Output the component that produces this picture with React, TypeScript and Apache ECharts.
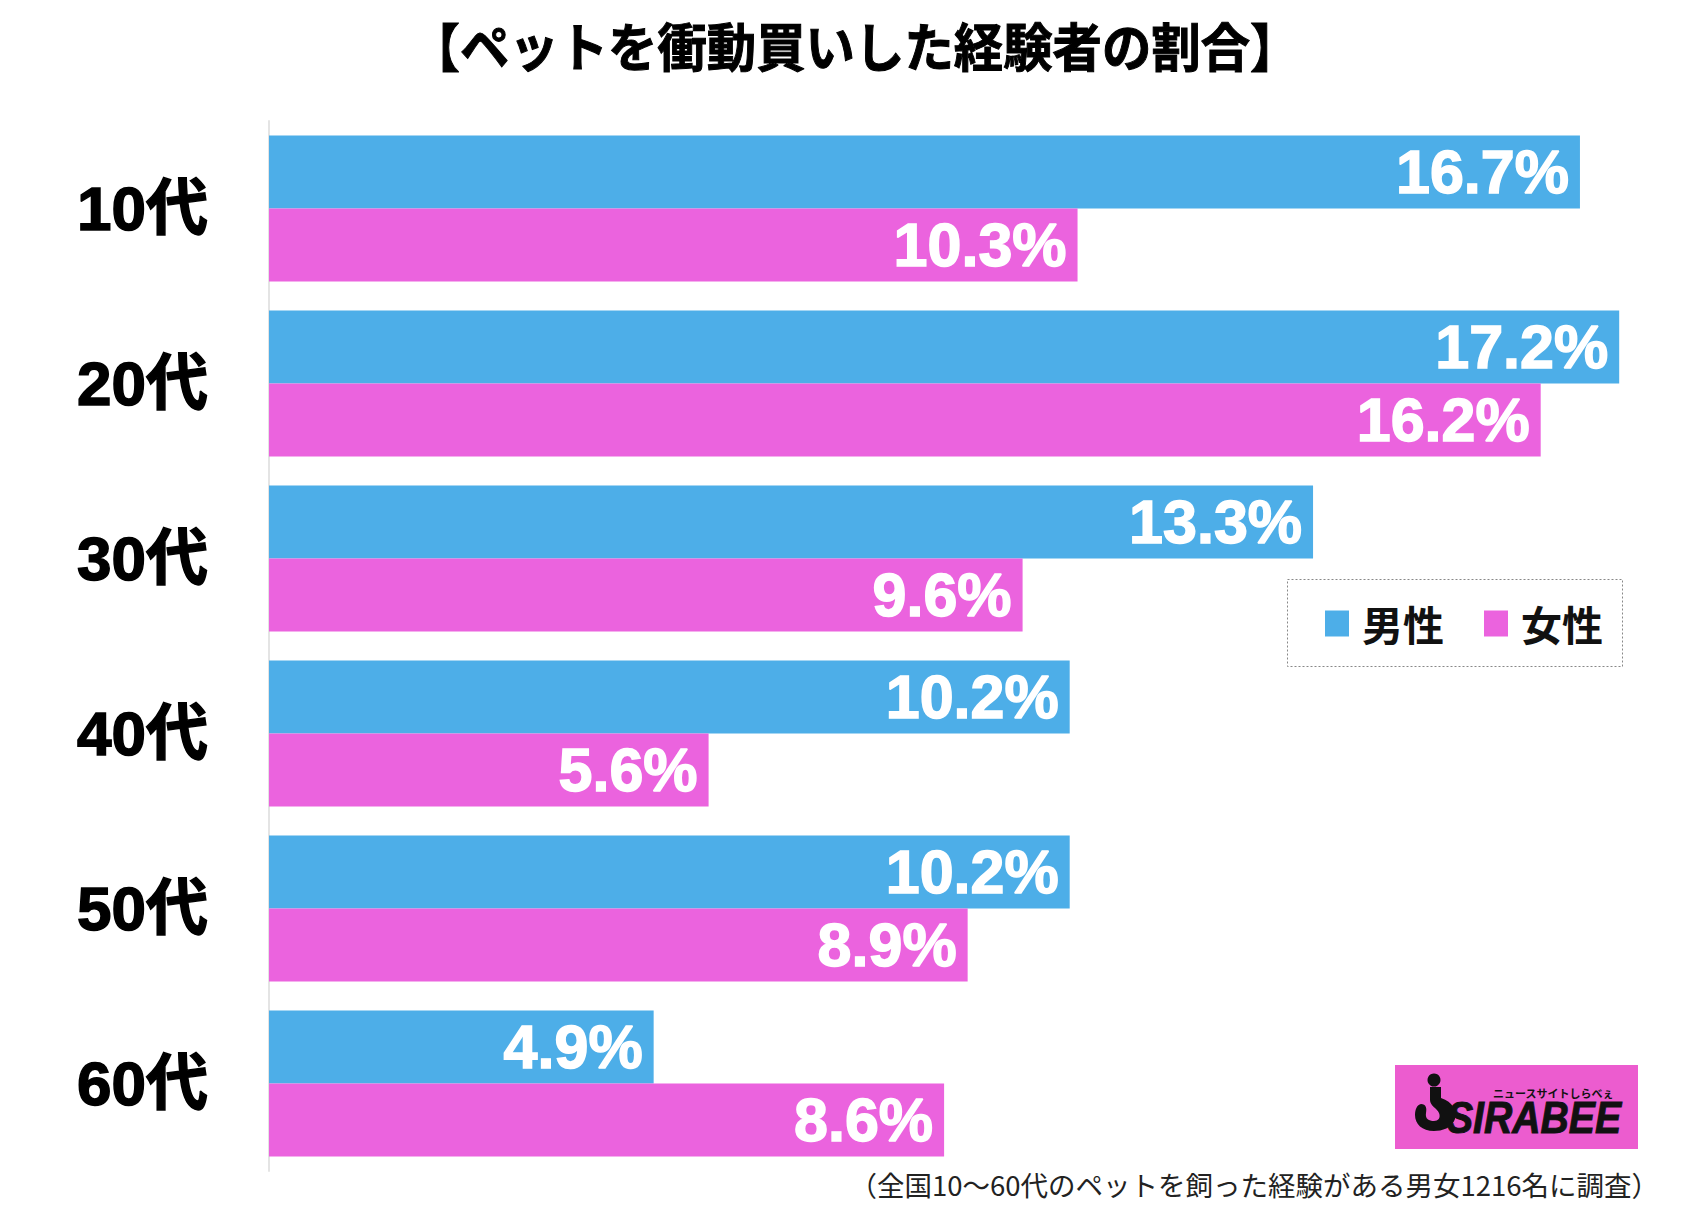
import React, { useEffect, useRef } from "react";
import * as echarts from "echarts";

const categories = ["10代", "20代", "30代", "40代", "50代", "60代"];
const maleValues = [16.7, 17.2, 13.3, 10.2, 10.2, 4.9];
const femaleValues = [10.3, 16.2, 9.6, 5.6, 8.9, 8.6];
const seriesNames = ["男性", "女性"];
const titleText = "【ペットを衝動買いした経験者の割合】";
const footnoteText = "（全国10〜60代のペットを飼った経験がある男女1216名に調査）";

const BLUE = "#4daee8";
const PINK = "#eb63de";
const LOGO_PINK = "#ec5ccf";

const hookPath =
  "M 35 24 L 46 24 L 46 35 C 58 39 62 48 60 56 C 57 65 47 68 39 68 C 27 68 20 61 20 52 C 20 46 22 42 26 41 C 31 41 32 45 31 50 C 30 56 34 58 39 58 C 43 58 46 55 44 50 C 42 45 35 43 35 37 Z";

const valueLabel = {
  show: true,
  position: "insideRight",
  distance: 11,
  formatter: "{c}%",
  color: "#fff",
  fontSize: 61,
  fontWeight: "bold",
  fontFamily: "'Liberation Sans'",
  textBorderColor: "#fff",
  textBorderWidth: 1.5,
};

export default function App() {
  const ref = useRef<HTMLDivElement>(null);
  useEffect(() => {
    if (!ref.current) return;
    echarts.graphic.registerShape("logo", echarts.graphic.extendPath(hookPath, {}));
    const chart = echarts.init(ref.current, undefined, { renderer: "svg" });
    chart.setOption({
      animation: false,
      backgroundColor: "#ffffff",
      grid: { left: 269, right: 20, top: 121, height: 1050 },
      legend: {
        data: seriesNames,
        left: 1325,
        top: 603,
        padding: 0,
        itemWidth: 24,
        itemHeight: 26,
        itemGap: 40,
        icon: "rect",
        selectedMode: false,
        textStyle: {
          fontSize: 41,
          fontWeight: "bold",
          fontFamily: "'Noto Sans CJK JP'",
          color: "#111",
          padding: [0, 0, 0, 8],
        },
      },
      xAxis: {
        type: "value",
        min: 0,
        max: 18,
        show: false,
        splitLine: { show: false },
      },
      yAxis: {
        type: "category",
        data: categories,
        inverse: true,
        axisLine: { show: true, lineStyle: { color: "#e4e4e4", width: 2 } },
        axisTick: { show: false },
        axisLabel: {
          margin: 61,
          fontSize: 62,
          fontWeight: "bold",
          color: "#000",
          fontFamily: "'Liberation Sans', 'Noto Sans CJK JP'",
          textBorderColor: "#000",
          textBorderWidth: 1.5,
        },
      },
      series: [
        {
          name: seriesNames[0],
          type: "bar",
          data: maleValues,
          barWidth: 73,
          barGap: "0%",
          itemStyle: { color: BLUE },
          label: valueLabel,
        },
        {
          name: seriesNames[1],
          type: "bar",
          data: femaleValues,
          barWidth: 73,
          barGap: "0%",
          itemStyle: { color: PINK },
          label: valueLabel,
        },
      ],
      graphic: [
        {
          type: "text",
          x: 855,
          y: 44,
          scaleX: 0.95,
          style: {
            text: titleText,
            fontSize: 52,
            fontWeight: "bold",
            fontFamily: "'Noto Sans CJK JP'",
            fill: "#000",
            stroke: "#000",
            lineWidth: 1,
            textAlign: "center",
            textVerticalAlign: "middle",
          },
        },
        {
          type: "rect",
          shape: { x: 1287.5, y: 579.5, width: 335, height: 87 },
          style: { fill: "none", stroke: "#888", lineWidth: 1, lineDash: [2, 2] },
          z: 1,
        },
        {
          type: "text",
          x: 1659,
          y: 1184,
          style: {
            text: footnoteText,
            fontSize: 27.5,
            fontFamily: "'Noto Sans CJK JP'",
            fill: "#222",
            textAlign: "right",
            textVerticalAlign: "middle",
          },
        },
        {
          type: "rect",
          shape: { x: 1395, y: 1065, width: 243, height: 84 },
          style: { fill: LOGO_PINK },
        },
        {
          type: "circle",
          shape: { cx: 1434, cy: 1080, r: 6.5 },
          style: { fill: "#111" },
        },
        {
          type: "logo",
          x: 1395,
          y: 1063,
          scaleX: 1,
          scaleY: 1,
          style: { fill: "#111" },
        },
        {
          type: "text",
          x: 1447,
          y: 1118,
          scaleX: 0.89,
          style: {
            text: "SIRABEE",
            fontSize: 44,
            fontWeight: "bold",
            fontStyle: "italic",
            fontFamily: "'Liberation Sans'",
            fill: "#111",
            stroke: "#111",
            lineWidth: 1,
            textVerticalAlign: "middle",
          },
        },
        {
          type: "text",
          x: 1493,
          y: 1093,
          style: {
            text: "ニュースサイトしらべぇ",
            fontSize: 11,
            fontWeight: "bold",
            fontFamily: "'Noto Sans CJK JP'",
            fill: "#111",
            textVerticalAlign: "middle",
          },
        },
      ],
    });
    return () => chart.dispose();
  }, []);
  return <div ref={ref} style={{ width: 1702, height: 1207, margin: -8 }} />;
}
